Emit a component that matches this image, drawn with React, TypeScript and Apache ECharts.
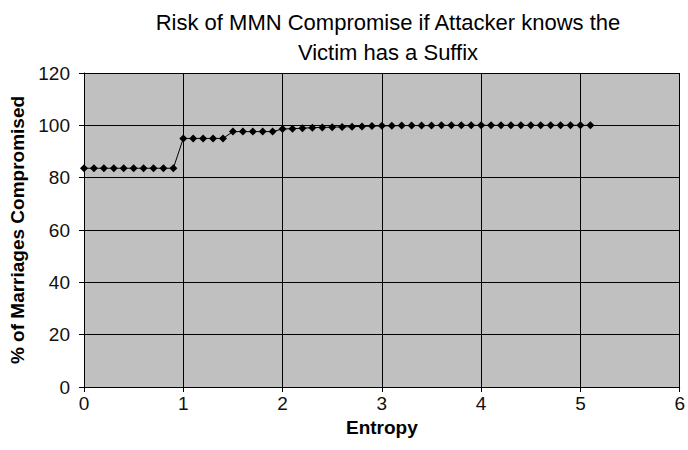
import React, { useEffect, useRef } from "react";
import * as echarts from "echarts";

const entropy = [
  0, 0.1, 0.2, 0.3, 0.4, 0.5, 0.6, 0.7, 0.8, 0.9,
  1.0, 1.1, 1.2, 1.3, 1.4, 1.5, 1.6, 1.7, 1.8, 1.9,
  2.0, 2.1, 2.2, 2.3, 2.4, 2.5, 2.6, 2.7, 2.8, 2.9,
  3.0, 3.1, 3.2, 3.3, 3.4, 3.5, 3.6, 3.7, 3.8, 3.9,
  4.0, 4.1, 4.2, 4.3, 4.4, 4.5, 4.6, 4.7, 4.8, 4.9,
  5.0, 5.1,
];
const compromised = [
  83.6, 83.6, 83.6, 83.6, 83.6, 83.6, 83.6, 83.6, 83.6, 83.6,
  95.0, 95.0, 95.0, 95.0, 95.0, 97.6, 97.6, 97.6, 97.6, 97.6,
  98.6, 98.7, 98.9, 99.1, 99.2, 99.3, 99.4, 99.5, 99.6, 99.7,
  99.8, 99.8, 99.9, 99.9, 99.9, 99.9, 100, 100, 100, 100,
  100, 100, 100, 100, 100, 100, 100, 100, 100, 100,
  100, 100,
];
const titleLines = ["Risk of MMN Compromise if Attacker knows the", "Victim has a Suffix"];
const xName = "Entropy";
const yName = "% of Marriages Compromised";

export default function App() {
  const ref = useRef<HTMLDivElement>(null);
  useEffect(() => {
    if (!ref.current) return;
    const chart = echarts.init(ref.current, undefined, { renderer: "svg" });
    const font = "Arial, 'Liberation Sans', sans-serif";
    chart.setOption({
      animation: false,
      backgroundColor: "#ffffff",
      title: {
        text: titleLines.join("\n"),
        left: 383,
        textAlign: "center",
        top: 2,
        textStyle: {
          fontFamily: font,
          fontSize: 22,
          fontWeight: "normal",
          color: "#000",
          lineHeight: 30,
        },
      },
      grid: {
        left: 84,
        right: 4,
        top: 73,
        bottom: 63,
        show: true,
        backgroundColor: "#c0c0c0",
        borderWidth: 0,
      },
      xAxis: {
        type: "value",
        min: 0,
        max: 6,
        interval: 1,
        name: xName,
        nameLocation: "middle",
        nameGap: 30,
        nameTextStyle: { fontFamily: font, fontSize: 19, fontWeight: "bold", color: "#000" },
        axisLine: { show: true, onZero: false, lineStyle: { color: "#000", width: 1 } },
        axisTick: { show: true, length: 5, lineStyle: { color: "#000" } },
        axisLabel: { fontFamily: font, fontSize: 19, color: "#111", margin: 7 },
        splitLine: { show: true, lineStyle: { color: "#000", width: 1 } },
      },
      yAxis: {
        type: "value",
        min: 0,
        max: 120,
        interval: 20,
        name: yName,
        nameLocation: "middle",
        nameGap: 57,
        nameTextStyle: { fontFamily: font, fontSize: 19, fontWeight: "bold", color: "#000" },
        axisLine: { show: true, lineStyle: { color: "#000", width: 1 } },
        axisTick: { show: true, length: 5, lineStyle: { color: "#000" } },
        axisLabel: { fontFamily: font, fontSize: 19, color: "#111", margin: 14 },
        splitLine: { show: true, lineStyle: { color: "#000", width: 1 } },
      },
      series: [
        {
          type: "line",
          data: entropy.map((x, i) => [x, compromised[i]]),
          symbol: "diamond",
          symbolSize: 8,
          showSymbol: true,
          lineStyle: { color: "#000", width: 1 },
          itemStyle: { color: "#000" },
        },
      ],
    });
    return () => chart.dispose();
  }, []);
  return (
    <div
      ref={ref}
      style={{ position: "fixed", left: 0, top: 0, width: 688, height: 450 }}
    />
  );
}
